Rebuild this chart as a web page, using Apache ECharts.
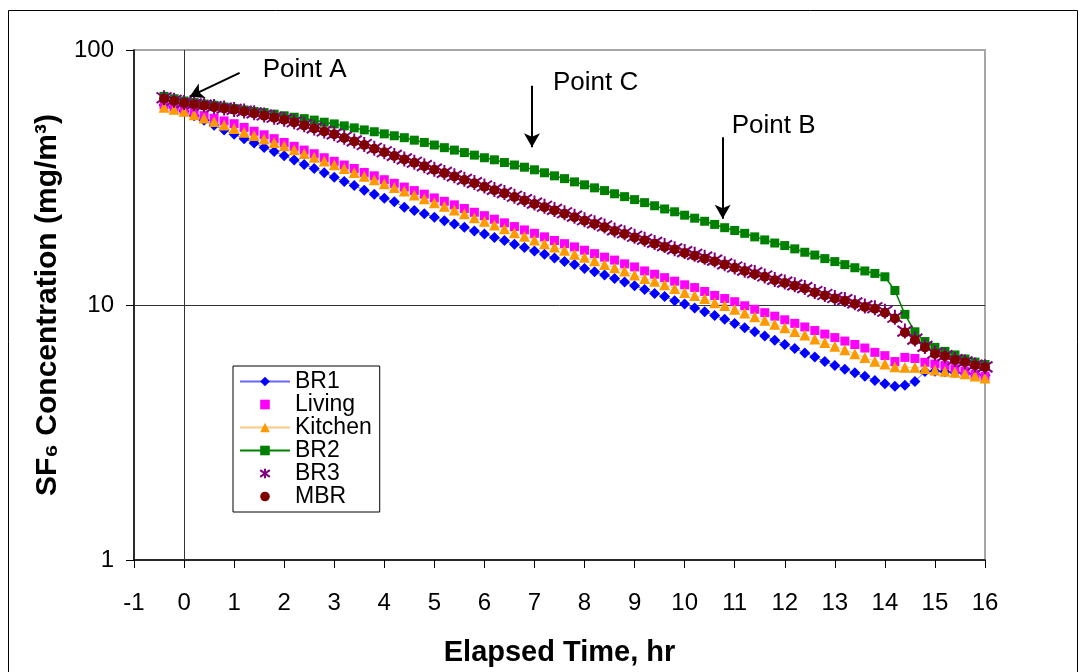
<!DOCTYPE html>
<html>
<head>
<meta charset="utf-8">
<script src="https://cdn.jsdelivr.net/npm/echarts@6/dist/echarts.min.js"></script>
<style>html,body{margin:0;padding:0;background:#fff;}#c{width:1086px;height:672px;}</style>
</head>
<body>
<div id="c"></div>
<script>
const FONT = '"Liberation Sans", Arial, "DejaVu Sans", sans-serif';

const hours = [-0.4,-0.2,0,0.2,0.4,0.6,0.8,1.0,1.2,1.4,
1.6,1.8,2.0,2.2,2.4,2.6,2.8,3.0,3.2,3.4,
3.6,3.8,4.0,4.2,4.4,4.6,4.8,5.0,5.2,5.4,
5.6,5.8,6.0,6.2,6.4,6.6,6.8,7.0,7.2,7.4,
7.6,7.8,8.0,8.2,8.4,8.6,8.8,9.0,9.2,9.4,
9.6,9.8,10.0,10.2,10.4,10.6,10.8,11.0,11.2,11.4,
11.6,11.8,12.0,12.2,12.4,12.6,12.8,13.0,13.2,13.4,
13.6,13.8,14.0,14.2,14.4,14.6,14.8,15.0,15.2,15.4,
15.6,15.8,16.0];

const br1 = [60.9,59.6,57.5,55.2,53.0,50.7,48.6,46.7,44.9,43.2,
41.5,40.0,38.5,37.0,35.6,34.3,33.0,31.7,30.5,29.4,
28.2,27.2,26.2,25.4,24.2,23.5,22.8,22.1,21.4,20.8,
20.2,19.5,19.0,18.4,17.9,17.3,16.8,16.3,15.8,15.3,
14.8,14.4,13.9,13.5,13.1,12.7,12.3,11.9,11.5,11.1,
10.8,10.4,10.1,9.73,9.40,9.10,8.79,8.47,8.15,7.85,
7.55,7.28,7.00,6.75,6.49,6.25,6.01,5.79,5.60,5.42,
5.25,5.06,4.91,4.80,4.84,5.01,5.48,5.50,5.47,5.44,
5.40,5.36,5.30];

const living = [61.0,59.7,58.2,56.8,55.3,54.0,52.7,51.4,49.7,48.0,
46.5,44.9,43.4,41.9,40.5,39.2,37.8,36.6,35.4,34.3,
33.1,32.1,31.0,30.0,29.0,28.1,27.2,26.3,25.5,24.7,
23.9,23.1,22.4,21.7,21.0,20.3,19.7,19.1,18.5,17.9,
17.4,16.9,16.4,15.9,15.4,15.0,14.5,14.1,13.6,13.2,
12.8,12.4,12.0,11.7,11.3,10.9,10.6,10.3,9.93,9.62,
9.33,9.04,8.75,8.47,8.20,7.94,7.69,7.45,7.22,7.00,
6.78,6.52,6.33,6.00,6.23,6.17,5.96,5.87,5.79,5.62,
5.50,5.34,5.25];

const kitchen = [59.6,58.6,57.5,55.7,54.1,52.4,50.8,49.2,47.6,46.2,
44.8,43.4,42.1,40.6,39.3,38.0,36.7,35.5,34.3,33.1,
32.0,31.0,29.9,28.9,28.0,27.0,26.1,25.2,24.4,23.6,
22.8,22.0,21.3,20.6,19.9,19.2,18.6,18.0,17.4,16.9,
16.4,15.8,15.4,14.9,14.4,14.0,13.6,13.1,12.7,12.4,
12.0,11.6,11.2,10.9,10.6,10.2,9.95,9.62,9.31,9.00,
8.71,8.41,8.15,7.87,7.62,7.36,7.13,6.89,6.67,6.44,
6.23,6.02,5.87,5.72,5.70,5.70,5.64,5.56,5.50,5.45,
5.38,5.27,5.17];

const br2 = [65.8,64.4,63.1,62.2,61.4,60.7,59.8,59.0,58.2,57.4,
56.8,56.0,55.2,54.5,53.8,53.1,52.1,51.3,50.4,49.5,
48.6,47.8,46.9,46.1,45.3,44.3,43.4,42.4,41.4,40.5,
39.6,38.7,37.8,37.1,36.2,35.4,34.7,33.9,33.0,32.1,
31.3,30.4,29.6,28.8,28.1,27.3,26.6,25.9,25.2,24.5,
23.8,23.2,22.5,21.9,21.3,20.7,20.1,19.6,19.1,18.5,
18.0,17.5,17.1,16.6,16.1,15.7,15.2,14.8,14.4,14.0,
13.6,13.3,12.9,11.4,9.19,7.85,7.19,6.82,6.58,6.37,
6.14,5.97,5.84];

const br3 = [65.0,63.5,62.3,61.5,60.8,60.0,59.2,58.5,57.6,56.7,
55.6,54.5,53.5,52.3,50.9,49.5,48.1,46.9,45.5,44.0,
42.6,41.2,39.9,38.6,37.4,36.3,35.2,34.1,33.1,32.1,
31.1,30.2,29.3,28.4,27.6,26.7,25.9,25.1,24.4,23.7,
23.0,22.3,21.6,21.0,20.4,19.7,19.2,18.6,18.1,17.6,
17.1,16.6,16.2,15.8,15.4,15.0,14.5,14.1,13.7,13.4,
13.0,12.6,12.3,12.0,11.7,11.3,11.0,10.7,10.5,10.2,
9.92,9.75,9.45,8.95,7.90,7.35,6.88,6.48,6.33,6.11,
5.98,5.82,5.72];

const mbr = [64.4,63.1,61.9,61.2,60.5,59.7,59.0,58.3,57.4,56.4,
55.3,54.3,53.3,52.0,50.6,49.2,47.9,46.7,45.2,43.8,
42.4,41.0,39.7,38.4,37.2,36.1,35.0,33.9,32.9,31.9,
30.9,30.0,29.1,28.2,27.4,26.5,25.7,24.9,24.2,23.5,
22.8,22.1,21.4,20.8,20.2,19.5,19.0,18.4,17.9,17.4,
16.9,16.5,16.0,15.6,15.2,14.8,14.4,14.0,13.6,13.2,
12.9,12.5,12.2,11.9,11.6,11.2,10.9,10.6,10.4,10.1,
9.82,9.66,9.33,8.86,7.80,7.28,6.82,6.43,6.30,6.08,
5.96,5.79,5.70];

const seriesNames = ['BR1','Living','Kitchen','BR2','BR3','MBR'];
const annotations = [
  {text:'Point A', x:1.57, y:83.5},
  {text:'Point C', x:7.37, y:74.3},
  {text:'Point B', x:10.94, y:50.6}
];
const arrows = [
  [[1.11, 81.3],[0.11, 65.6]],
  [[6.95, 72.4],[6.95, 41.6]],
  [[10.76, 45.5],[10.76, 21.8]]
];

const pairs = arr => hours.map((h,i)=>[h, arr[i]]);
const ASTER = 'path://M10,0L10,20M2,3L18,17M2,17L18,3';

const chart = echarts.init(document.getElementById('c'), null, {renderer:'canvas'});
const option = {
  animation:false,
  backgroundColor:'#fff',
  textStyle:{fontFamily:FONT, color:'#000'},
  grid:{left:134, right:101, top:50, bottom:108, show:true, borderColor:'#a6a6a6', borderWidth:2, backgroundColor:'#fff'},
  legend:{
    orient:'vertical', left:233, top:366,
    backgroundColor:'#fff', borderColor:'#000', borderWidth:1,
    padding:[4,8,4,6], itemGap:0, itemWidth:50, itemHeight:12,
    textStyle:{fontSize:23, lineHeight:23, color:'#000', fontFamily:FONT},
    data:seriesNames
  },
  xAxis:{
    type:'value', min:-1, max:16, interval:1,
    axisLine:{onZero:false, lineStyle:{color:'#000', width:1.5}},
    axisTick:{show:true, length:8, lineStyle:{color:'#000'}},
    axisLabel:{fontSize:24, color:'#000', margin:31, fontFamily:FONT},
    splitLine:{show:false},
    name:'Elapsed Time, hr', nameLocation:'middle', nameGap:78,
    nameTextStyle:{fontSize:29, fontWeight:'bold', color:'#000', fontFamily:FONT}
  },
  yAxis:{
    type:'log', logBase:10, min:1, max:100,
    axisLine:{show:true, onZero:false, lineStyle:{color:'#000', width:1.5}},
    axisTick:{show:true, length:8, lineStyle:{color:'#000'}},
    axisLabel:{fontSize:24, color:'#000', margin:20, fontFamily:FONT},
    splitLine:{show:false},
    name:'SF\u2086 Concentration (mg/m\u00B3)', nameLocation:'middle', nameGap:68,
    nameTextStyle:{fontSize:30, fontWeight:'bold', color:'#000', fontFamily:FONT}
  },
  series:[
    {name:'BR1', type:'line', data:pairs(br1), symbol:'diamond', symbolSize:11,
     itemStyle:{color:'#0000ff', borderWidth:0}, lineStyle:{color:'#6666ff', width:1},
     markLine:{silent:true, z:1, symbol:['none','none'], label:{show:false},
       lineStyle:{color:'#333', width:1, type:'solid'},
       data:[{xAxis:0},{yAxis:10}]}},
    {name:'Living', type:'line', data:pairs(living), symbol:'rect', symbolSize:9,
     itemStyle:{color:'#ff00ff', borderWidth:0}, lineStyle:{opacity:0, width:0}},
    {name:'Kitchen', type:'line', data:pairs(kitchen), symbol:'triangle', symbolSize:11,
     itemStyle:{color:'#ff9900', borderWidth:0}, lineStyle:{color:'#ffc880', width:1}},
    {name:'BR2', type:'line', data:pairs(br2), symbol:'rect', symbolSize:9,
     itemStyle:{color:'#008000', borderWidth:0}, lineStyle:{color:'#008000', width:1.5},
     markLine:{silent:true, symbol:['none','arrow'], symbolSize:[12,14], label:{show:false},
       lineStyle:{color:'#000', width:2, type:'solid'},
       data:arrows.map(a=>[{coord:a[0]},{coord:a[1]}])}},
    {name:'BR3', type:'line', data:pairs(br3), symbol:ASTER, symbolSize:15,
     itemStyle:{color:'#800080', borderColor:'#800080', borderWidth:2}, lineStyle:{opacity:0, width:0}},
    {name:'MBR', type:'line', data:pairs(mbr), symbol:'circle', symbolSize:10,
     itemStyle:{color:'#800000', borderWidth:0}, lineStyle:{opacity:0, width:0}}
  ]
};
chart.setOption(option);

const gfx = annotations.map(a => {
  const p = chart.convertToPixel({gridIndex:0}, [a.x, a.y]);
  return {type:'text', x:p[0], y:p[1], z:100,
    style:{text:a.text, fontSize:26, fill:'#000', fontFamily:FONT, verticalAlign:'middle', align:'left'}};
});
gfx.push({type:'rect', z:100, shape:{x:8.5, y:10.5, width:1069, height:700},
  style:{fill:'none', stroke:'#000', lineWidth:1}});
chart.setOption({graphic:gfx});
</script>
</body>
</html>
